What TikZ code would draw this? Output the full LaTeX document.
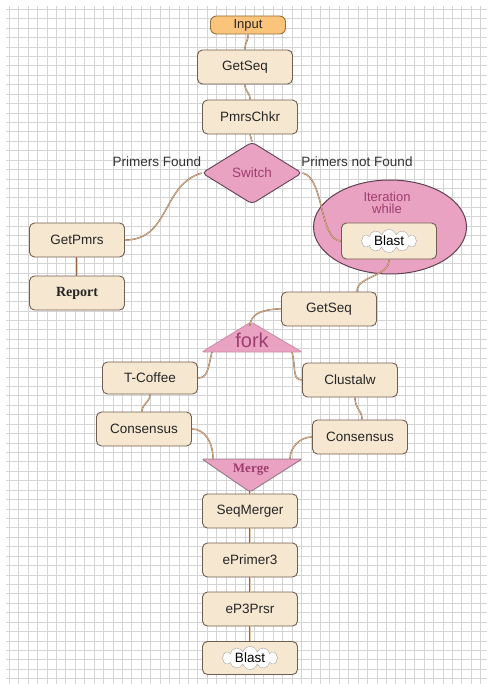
\documentclass[tikz,border=0pt]{standalone}
\usepackage{fontspec}
\setmainfont{Liberation Sans}
\newfontfamily\serifbf{Liberation Serif}
\usetikzlibrary{positioning, shapes.geometric, shapes.symbols}

\definecolor{boxfill}{RGB}{246,231,208}
\definecolor{boxline}{RGB}{112,94,80}
\definecolor{inputfill}{RGB}{250,196,122}
\definecolor{inputline}{RGB}{150,110,62}
\definecolor{pinkfill}{RGB}{234,162,194}
\definecolor{pinkline}{RGB}{96,66,82}
\definecolor{pinktext}{RGB}{158,62,112}
\definecolor{wireline}{RGB}{150,104,70}
\definecolor{wirefill}{RGB}{230,200,165}
\definecolor{gridgray}{RGB}{212,212,212}

\tikzset{
  stepbox/.style={draw=boxline, fill=boxfill, rounded corners=5pt, line width=0.9pt,
    minimum width=95pt, minimum height=34pt, inner sep=2pt, text=black!85, font=\fontsize{13.5}{15}\selectfont},
  inputbox/.style={stepbox, draw=inputline, fill=inputfill, minimum width=75pt,
    minimum height=18pt, rounded corners=6pt, font=\fontsize{13}{14}\selectfont},
  blastcloud/.style={cloud, cloud puffs=12, aspect=3.4, draw=gray!70, fill=white,
    minimum width=56pt, minimum height=17pt, inner sep=0pt, font=\fontsize{13.5}{15}\selectfont},
  switchbox/.style={diamond, draw=pinkline, fill=pinkfill, line width=0.9pt, rounded corners=4pt,
    minimum width=100pt, minimum height=62pt, inner sep=0pt, text=pinktext, font=\fontsize{13.5}{15}\selectfont},
  pinkshape/.style={fill=pinkfill, line width=0.9pt, rounded corners=2pt},
  branchlabel/.style={text=black!80, font=\fontsize{13.5}{15}\selectfont},
  wire/.style={draw=wireline, double=wirefill, double distance=0.5pt, line width=0.45pt},
  gridline/.style={draw=gridgray, line width=0.4pt}
}

\begin{document}
\begin{tikzpicture}[x=1pt, y=-1pt]
\useasboundingbox (0,0) rectangle (491,684);
% background grid
\foreach \i in {0,...,50} \draw[gridline] ({9+\i*9.43},6) -- ({9+\i*9.43},684);
\foreach \j in {0,...,71} \draw[gridline] (6,{9+\j*9.43}) -- (487,{9+\j*9.43});

% iteration loop
\node[ellipse, draw=pinkline, fill=pinkfill, line width=1pt, minimum width=153pt, minimum height=94pt] (loop) at (390,227) {};
\node[text=pinktext, align=center, font=\fontsize{13}{12}\selectfont] (looplabel) at (387,203) {Iteration\\while};

% main chain
\node[inputbox] (input) at (248,25) {Input};
\node[stepbox] (getseq) at (245,67) {GetSeq};
\node[stepbox] (pmrschkr) at (250,117) {PmrsChkr};
\node[switchbox] (switch) at (252,173) {Switch};
\node[branchlabel] (found) at (157,162) {Primers Found};
\node[branchlabel] (notfound) at (357,162) {Primers not Found};

\node[stepbox] (getpmrs) at (77,240) {GetPmrs};
\node[stepbox, font=\serifbf\bfseries\fontsize{14}{15}\selectfont] (report) at (77,293) {Report};

\node[stepbox, minimum height=36pt] (blastA) at (389,241) {};
\node[blastcloud] (cloudA) at (blastA) {Blast};
\node[stepbox] (getseqB) at (329,309) {GetSeq};

% fork
\path[pinkshape, draw=pinkfill!80!pinkline] (202,352) -- (251,322) -- (302,352) -- cycle;
\node[text=pinktext, font=\fontsize{20}{22}\selectfont] (fork) at (252,340) {fork};
\coordinate (forktop) at (250,326);
\coordinate (forkL) at (212,352);
\coordinate (forkR) at (292,352);

\node[stepbox, minimum height=32pt] (tcoffee) at (150,378) {T-Coffee};
\node[stepbox] (clustalw) at (350,380) {Clustalw};
\node[stepbox] (consL) at (144,429) {Consensus};
\node[stepbox] (consR) at (360,437) {Consensus};

% merge
\path[pinkshape, draw=pinkline!70] (202,459) -- (302,459) -- (250,492) -- cycle;
\node[text=pinktext, font=\serifbf\bfseries\fontsize{13}{14}\selectfont] (merge) at (251,470) {Merge};
\coordinate (mergeL) at (213,459);
\coordinate (mergeR) at (290,459);
\coordinate (mergeB) at (250,491);

\node[stepbox] (seqmerger) at (250,511) {SeqMerger};
\node[stepbox] (eprimer) at (250,560) {ePrimer3};
\node[stepbox] (epprsr) at (250,609) {eP3Prsr};
\node[stepbox, minimum height=33pt] (blastB) at (250,658) {};
\node[blastcloud] (cloudB) at (blastB) {Blast};

% connectors
\draw[wire] (input.south) .. controls +(0,8) and +(0,-8) .. (getseq.north);
\draw[wire] (getseq.south) .. controls +(0,8) and +(0,-8) .. (pmrschkr.north);
\draw[wire] (pmrschkr.south) -- (switch.north);
\draw[wire] (switch.west) .. controls +(-40,12) and +(45,0) .. (getpmrs.east);
\draw[wire] (switch.east) .. controls +(22,4) and +(-22,0) .. (blastA.west);
\draw[wire] (getpmrs.south) -- (report.north);
\draw[wire] (blastA.south) .. controls +(0,18) and +(0,-16) .. ([xshift=28pt]getseqB.north);
\draw[wire] (getseqB.west) .. controls +(-22,0) and +(0,-10) .. (forktop);
\draw[wire] (forkL) .. controls +(-4,16) and +(10,0) .. (tcoffee.east);
\draw[wire] (forkR) .. controls +(4,16) and +(-10,0) .. (clustalw.west);
\draw[wire] (tcoffee.south) .. controls +(0,8) and +(0,-8) .. ([xshift=-2pt]consL.north);
\draw[wire] ([xshift=5pt]clustalw.south) .. controls +(0,12) and +(0,-10) .. ([xshift=2pt]consR.north);
\draw[wire] (consL.east) .. controls +(12,0) and +(0,-18) .. (mergeL);
\draw[wire] (consR.west) .. controls +(-12,0) and +(0,-12) .. (mergeR);
\draw[wire] (mergeB) -- (seqmerger.north);
\draw[wire] (seqmerger.south) -- (eprimer.north);
\draw[wire] (eprimer.south) -- (epprsr.north);
\draw[wire] (epprsr.south) -- (blastB.north);
\end{tikzpicture}
\end{document}
